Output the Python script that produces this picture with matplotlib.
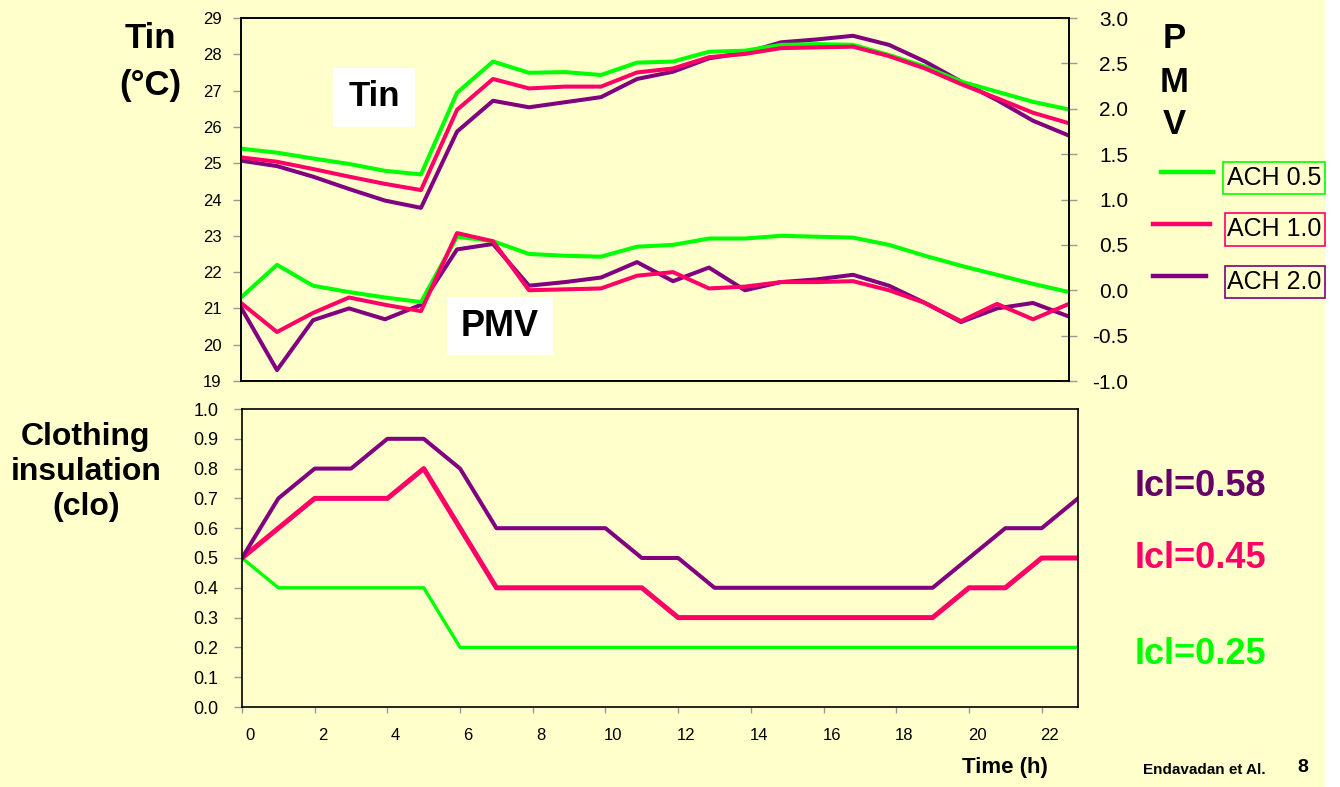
import numpy as np
import matplotlib
matplotlib.use("Agg")
import matplotlib.pyplot as plt
from matplotlib.patches import Rectangle
from matplotlib.lines import Line2D
from matplotlib.transforms import ScaledTranslation

plt.rcParams['font.family'] = ['Liberation Sans', 'DejaVu Sans']
plt.rcParams['axes.unicode_minus'] = False

# data
hours = list(range(24))
tin_05 = [25.40, 25.29, 25.13, 24.98, 24.79, 24.69, 26.94, 27.80, 27.49, 27.51, 27.43, 27.77,
          27.80, 28.07, 28.10, 28.26, 28.28, 28.26, 27.98, 27.66, 27.25, 26.97, 26.69, 26.48]
tin_10 = [25.16, 25.04, 24.84, 24.63, 24.43, 24.26, 26.47, 27.32, 27.06, 27.11, 27.11, 27.50,
          27.61, 27.92, 28.01, 28.17, 28.19, 28.21, 27.95, 27.61, 27.18, 26.79, 26.39, 26.10]
tin_20 = [25.07, 24.92, 24.63, 24.29, 23.97, 23.77, 25.87, 26.72, 26.54, 26.68, 26.82, 27.32,
          27.52, 27.89, 28.04, 28.33, 28.41, 28.51, 28.26, 27.80, 27.25, 26.74, 26.17, 25.76]
pmv_05 = [-0.08, 0.28, 0.05, -0.02, -0.08, -0.13, 0.59, 0.54, 0.40, 0.38, 0.37, 0.48,
          0.50, 0.57, 0.57, 0.60, 0.59, 0.58, 0.50, 0.38, 0.27, 0.17, 0.07, -0.02]
pmv_10 = [-0.14, -0.46, -0.25, -0.08, -0.16, -0.23, 0.63, 0.54, 0.00, 0.01, 0.02, 0.16,
          0.20, 0.02, 0.04, 0.09, 0.09, 0.10, 0.00, -0.14, -0.34, -0.15, -0.32, -0.15]
pmv_20 = [-0.19, -0.88, -0.33, -0.20, -0.32, -0.16, 0.45, 0.51, 0.05, 0.09, 0.14, 0.31,
          0.10, 0.25, 0.00, 0.09, 0.12, 0.17, 0.05, -0.14, -0.35, -0.20, -0.14, -0.29]
clo_05 = [0.5, 0.4, 0.4, 0.4, 0.4, 0.4, 0.2, 0.2, 0.2, 0.2, 0.2, 0.2,
          0.2, 0.2, 0.2, 0.2, 0.2, 0.2, 0.2, 0.2, 0.2, 0.2, 0.2, 0.2]
clo_10 = [0.5, 0.6, 0.7, 0.7, 0.7, 0.8, 0.6, 0.4, 0.4, 0.4, 0.4, 0.4,
          0.3, 0.3, 0.3, 0.3, 0.3, 0.3, 0.3, 0.3, 0.4, 0.4, 0.5, 0.5]
clo_20 = [0.5, 0.7, 0.8, 0.8, 0.9, 0.9, 0.8, 0.6, 0.6, 0.6, 0.6, 0.5,
          0.5, 0.4, 0.4, 0.4, 0.4, 0.4, 0.4, 0.4, 0.5, 0.6, 0.6, 0.7]
ach_labels = ['ACH 0.5', 'ACH 1.0', 'ACH 2.0']
icl_labels = ['Icl=0.25', 'Icl=0.45', 'Icl=0.58']

GREEN = '#00FF00'
PINK = '#FF0066'
PURPLE = '#800080'
BG = '#FFFFCC'
TICK = '#999999'

W, H = 1340, 787
fig = plt.figure(figsize=(13.4, 7.87), dpi=100, facecolor=BG)

def fx(x):
    return x / W

def fy(y):
    return 1 - y / H

# white strip at the right edge of the slide
fig.add_artist(Rectangle((fx(1325), 0), 1 - fx(1325), 1, transform=fig.transFigure,
                         facecolor='white', edgecolor='none'))

# top panel: Tin (left) and PMV (right)
ax1 = fig.add_axes([fx(241), fy(381), (1069 - 241) / W, (381 - 18) / H])
ax1.set_facecolor(BG)
ax2 = ax1.twinx()

ax1.plot(hours, tin_20, color=PURPLE, lw=2.9)
ax1.plot(hours, tin_05, color=GREEN, lw=2.9)
ax1.plot(hours, tin_10, color=PINK, lw=2.9)
ax2.plot(hours, pmv_20, color=PURPLE, lw=2.9)
ax2.plot(hours, pmv_05, color=GREEN, lw=2.9)
ax2.plot(hours, pmv_10, color=PINK, lw=2.9)

ax1.set_xlim(0, 23)
ax1.set_ylim(19, 29)
ax1.set_yticks(range(19, 30))
ax1.set_xticks([])
ax1.tick_params(axis='y', direction='out', length=6, width=1, color=TICK,
                labelsize=12, pad=8)
ax2.set_ylim(-1, 3)
yt = np.arange(-1.0, 3.01, 0.5)
ax2.set_yticks(yt, labels=['%.1f' % v for v in yt])
ax2.tick_params(axis='y', direction='inout', length=11, width=1, color=TICK,
                labelsize=15, pad=37)
for lab in ax2.get_yticklabels():
    lab.set_horizontalalignment('right')
for ax in (ax1, ax2):
    for s in ax.spines.values():
        s.set_linewidth(1.2)
        s.set_color('black')

# bottom panel: clothing insulation
ax3 = fig.add_axes([fx(242), fy(707), (1078 - 242) / W, (707 - 409) / H])
ax3.set_facecolor(BG)
ax3.plot(hours, clo_05, color=GREEN, lw=2.4)
ax3.plot(hours, clo_10, color=PINK, lw=3.6)
ax3.plot(hours, clo_20, color=PURPLE, lw=2.9)
ax3.set_xlim(0, 23)
ax3.set_ylim(0, 1)
ct = np.arange(0, 1.01, 0.1)
ax3.set_yticks(ct, labels=['%.1f' % v for v in ct])
ax3.set_xticks(range(0, 23, 2))
ax3.tick_params(axis='y', direction='out', length=6, width=1, color=TICK,
                labelsize=13, pad=11)
ax3.tick_params(axis='x', direction='out', length=4, width=1, color=TICK,
                labelsize=12, pad=11)
for lab in ax3.get_xticklabels():
    lab.set_transform(lab.get_transform() + ScaledTranslation(0.08, 0, fig.dpi_scale_trans))
for s in ax3.spines.values():
    s.set_linewidth(1.2)
    s.set_color('black')

# axis titles
fig.text(fx(150), fy(38), 'Tin', fontsize=25, fontweight='bold', ha='center', va='center')
fig.text(fx(150), fy(85), '(°C)', fontsize=25, fontweight='bold', ha='center', va='center')
for letter, yy in zip('PMV', [39, 83, 125]):
    fig.text(fx(1174), fy(yy), letter, fontsize=25, fontweight='bold', ha='center', va='center')
fig.text(fx(86), fy(472), 'Clothing\ninsulation\n(clo)', fontsize=23, fontweight='bold',
         ha='center', va='center', linespacing=1.2)

# boxed labels inside the top panel
fig.add_artist(Rectangle((fx(333), fy(127)), 82 / W, 59 / H, transform=fig.transFigure,
                         facecolor='white', edgecolor='none', zorder=5))
fig.text(fx(374), fy(97), 'Tin', fontsize=25, fontweight='bold', ha='center', va='center', zorder=6)
fig.add_artist(Rectangle((fx(447), fy(355)), 106 / W, 58 / H, transform=fig.transFigure,
                         facecolor='white', edgecolor='none', zorder=5))
fig.text(fx(500), fy(327), 'PMV', fontsize=26, fontweight='bold', ha='center', va='center', zorder=6)

# legend
colors = [GREEN, PINK, PURPLE]
leg_lines = [(1161, 1213, 172), (1153, 1210, 224), (1153, 1206, 276)]
leg_boxes = [(1223, 162, 194), (1225, 213, 246), (1225, 266, 298)]
for c, (x0, x1, yy), (bx, by0, by1), lab in zip(colors, leg_lines, leg_boxes, ach_labels):
    fig.add_artist(Line2D([fx(x0), fx(x1)], [fy(yy), fy(yy)], transform=fig.transFigure,
                          color=c, lw=3.2))
    fig.add_artist(Rectangle((fx(bx), fy(by1)), (1325 - bx) / W, (by1 - by0) / H,
                             transform=fig.transFigure, facecolor='none', edgecolor=c, lw=1.2))
    fig.text(fx(1227), fy((by0 + by1) / 2), lab, fontsize=18, ha='left', va='center')

# mean clothing values
icl_colors = [GREEN, PINK, '#660066']
for lab, c, yy in zip(icl_labels, icl_colors, [654, 559, 487]):
    fig.text(fx(1135), fy(yy), lab, fontsize=26, fontweight='bold', color=c, ha='left', va='center')

fig.text(fx(1005), fy(767), 'Time (h)', fontsize=16, fontweight='bold', ha='center', va='center')
fig.text(fx(1143), fy(770), 'Endavadan et Al.', fontsize=11, fontweight='bold', ha='left', va='center')
fig.text(fx(1303), fy(768), '8', fontsize=14, fontweight='bold', ha='center', va='center')

fig.savefig('out.png', dpi=100, facecolor=BG)
